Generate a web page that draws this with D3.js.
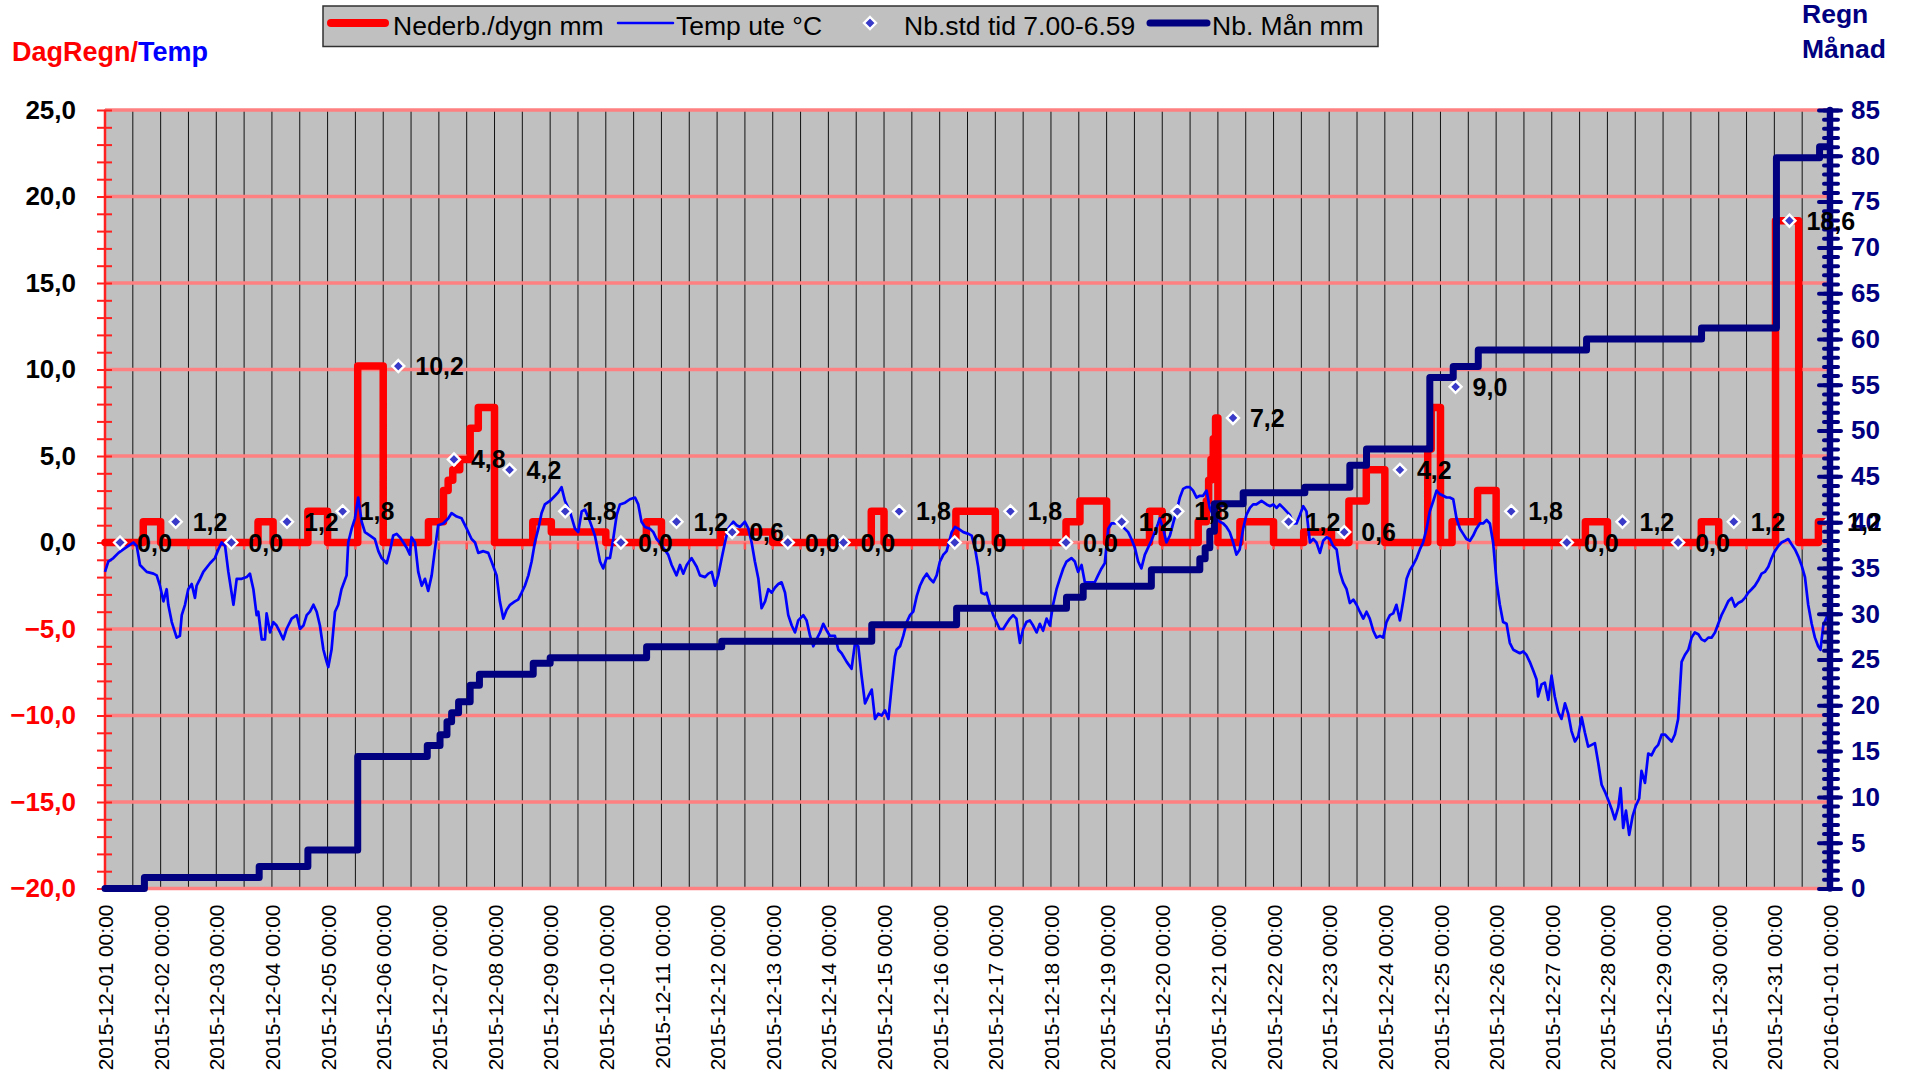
<!DOCTYPE html>
<html>
<head>
<meta charset="utf-8">
<script src="https://cdn.jsdelivr.net/npm/d3@7"></script>
<style>
  body { margin: 0; background: #fff; }
  svg { display: block; font-family: "Liberation Sans", Arial, sans-serif; }
</style>
</head>
<body>
<svg id="chart" width="1908" height="1075"></svg>
<script>
// hours counted from 2015-12-01 00:00
const startTime = Date.UTC(2015, 11, 1);
const spanHours = 744;

// Temp ute °C  [hour, value]
const tempPoints = [
  [0,-1.7],[1.4,-1.1],[3.6,-0.9],[5.8,-0.6],[7.9,-0.4],[10.1,-0.2],[12.2,0.0],[13.7,-0.2],[15.1,-1.3],[18.0,-1.7],
  [20.9,-1.8],[22.3,-1.9],[23.7,-2.5],[25.2,-3.4],[26.6,-2.7],[27.3,-3.6],[28.8,-4.6],[30.2,-5.2],[30.9,-5.5],[32.3,-5.4],
  [33.1,-4.2],[34.5,-3.6],[35.9,-2.7],[37.4,-2.4],[38.8,-3.2],[39.5,-2.5],[41.0,-2.1],[42.4,-1.7],[45.3,-1.2],[47.4,-0.9],
  [48.9,-0.4],[50.3,0.0],[51.8,-0.2],[53.2,-1.7],[55.4,-3.6],[56.8,-2.1],[59.0,-2.1],[61.1,-2.0],[62.5,-1.8],[64.0,-2.7],
  [65.4,-4.2],[66.1,-4.0],[67.6,-5.6],[69.0,-5.6],[69.7,-4.1],[71.2,-5.2],[72.6,-4.6],[74.0,-4.8],[75.5,-5.2],[76.9,-5.6],
  [78.3,-5.0],[80.5,-4.4],[82.7,-4.2],[84.1,-5.0],[85.6,-4.8],[87.0,-4.2],[88.4,-4.0],[89.9,-3.6],[91.3,-4.0],[92.7,-4.8],
  [94.2,-6.2],[95.6,-6.9],[96.3,-7.2],[97.7,-6.2],[99.2,-4.0],[100.6,-3.6],[102.0,-2.7],[104.2,-1.9],[104.9,0.0],[106.4,0.8],
  [107.8,1.4],[109.2,2.6],[110.7,1.2],[112.1,0.6],[114.3,0.4],[116.4,0.2],[117.9,-0.5],[119.3,-0.9],[121.5,-1.2],[122.9,-0.5],
  [124.3,0.4],[125.8,0.5],[127.2,0.3],[128.7,0.0],[130.1,-0.3],[131.5,-0.7],[132.2,0.3],[133.7,0.0],[135.1,-1.7],[136.6,-2.5],
  [138.0,-2.1],[139.4,-2.8],[140.9,-1.9],[142.3,-0.4],[143.7,1.0],[145.9,1.1],[148.1,1.4],[149.5,1.7],[151.7,1.5],[153.8,1.4],
  [156.0,0.8],[158.1,0.2],[159.6,0.0],[161.0,-0.6],[163.2,-0.5],[165.3,-0.6],[166.7,-1.1],[168.9,-1.9],[170.3,-3.4],[171.8,-4.4],
  [173.2,-3.9],[174.7,-3.6],[176.8,-3.4],[178.2,-3.3],[179.7,-2.9],[181.1,-2.5],[182.6,-1.9],[184.0,-1.1],[185.4,0.0],[186.9,0.8],
  [188.3,1.7],[189.7,2.2],[191.9,2.4],[194.1,2.7],[195.5,2.9],[196.9,3.2],[198.4,2.4],[200.5,1.8],[202.7,0.8],[204.1,0.6],
  [205.6,1.8],[207.0,1.9],[209.2,1.2],[211.3,0.4],[213.5,-1.1],[214.9,-1.5],[216.3,-0.9],[217.8,-0.9],[219.2,0.2],[220.7,1.6],
  [222.1,2.2],[224.3,2.3],[226.4,2.5],[228.6,2.6],[230.0,2.2],[231.4,1.2],[232.9,0.9],[235.0,0.8],[236.5,0.6],[237.9,0.2],
  [239.3,0.0],[240.8,-0.3],[242.9,-0.7],[244.4,-1.3],[246.5,-1.9],[248.0,-1.3],[249.4,-1.8],[250.9,-1.3],[253.0,-0.9],[255.2,-1.4],
  [256.6,-1.9],[258.8,-2.0],[260.2,-1.8],[261.7,-1.7],[263.1,-2.5],[264.5,-1.9],[266.0,-0.9],[267.4,0.0],[268.8,0.8],[271.0,1.2],
  [272.4,1.0],[273.9,0.9],[276.0,1.2],[277.5,0.8],[278.9,0.0],[280.3,-1.1],[281.8,-2.1],[283.2,-3.8],[284.7,-3.4],[286.1,-2.7],
  [287.5,-2.9],[289.0,-2.6],[290.4,-2.4],[291.8,-2.3],[293.3,-2.9],[294.7,-4.2],[296.2,-4.8],[297.6,-5.2],[299.0,-4.5],[301.2,-4.2],
  [302.6,-4.5],[304.1,-5.4],[305.5,-6.0],[306.9,-5.6],[308.4,-5.2],[309.8,-4.7],[311.3,-5.1],[312.7,-5.4],[314.8,-5.4],[316.3,-6.2],
  [317.7,-6.4],[319.9,-6.9],[322.0,-7.3],[323.5,-5.8],[324.9,-6.0],[326.3,-7.7],[327.8,-9.3],[329.2,-8.9],[330.7,-8.5],[332.1,-10.2],
  [333.5,-9.9],[335.0,-10.0],[336.4,-9.7],[337.9,-10.2],[339.3,-8.3],[340.7,-6.6],[341.4,-6.2],[342.9,-6.0],[344.3,-5.4],[345.8,-4.6],
  [347.2,-4.2],[348.6,-4.0],[350.1,-3.1],[351.5,-2.5],[352.9,-2.1],[354.4,-1.8],[355.8,-2.1],[357.3,-2.3],[358.7,-1.9],[360.1,-1.1],
  [361.6,-0.7],[363.0,-0.5],[365.2,0.6],[366.6,0.9],[368.0,0.8],[370.2,0.6],[372.4,0.5],[373.8,0.4],[375.2,-0.3],[376.6,-1.4],
  [378.0,-2.9],[379.5,-3.0],[380.2,-2.9],[381.6,-3.6],[383.1,-4.2],[384.5,-4.6],[385.9,-5.0],[387.4,-5.0],[388.8,-4.7],[390.3,-4.4],
  [391.7,-4.2],[393.1,-4.4],[394.6,-5.8],[396.0,-5.0],[397.4,-4.6],[398.9,-4.5],[400.3,-4.8],[401.8,-5.2],[403.2,-4.7],[404.6,-5.1],
  [406.1,-4.4],[407.5,-4.8],[408.9,-3.6],[410.4,-2.7],[411.8,-2.1],[413.3,-1.5],[414.7,-1.1],[416.8,-0.9],[418.3,-1.1],[419.7,-1.7],
  [421.2,-1.3],[422.6,-2.3],[424.8,-2.3],[426.9,-2.3],[428.3,-1.9],[429.8,-1.5],[431.2,-1.2],[432.7,0.8],[434.1,1.1],[435.5,1.1],
  [437.0,1.2],[438.4,1.0],[439.8,0.8],[441.3,0.6],[442.7,0.2],[444.2,-0.3],[445.6,-1.1],[447.0,-1.5],[448.5,-0.7],[449.9,-0.3],
  [451.3,0.1],[452.8,0.6],[454.2,1.1],[454.9,1.4],[456.4,0.8],[457.8,0.0],[459.3,0.4],[460.7,1.1],[462.1,1.8],[463.6,2.6],
  [465.0,3.1],[466.4,3.2],[467.9,3.2],[469.3,3.0],[470.8,2.6],[472.2,2.7],[473.6,2.7],[475.1,3.0],[476.5,2.0],[477.9,1.6],
  [479.4,1.4],[480.8,1.2],[482.3,1.1],[483.7,0.9],[485.1,0.6],[486.6,0.0],[488.0,-0.7],[489.4,-0.4],[490.9,0.8],[492.3,1.6],
  [493.8,2.0],[495.2,2.2],[496.6,2.2],[498.8,2.4],[501.0,2.2],[502.4,2.1],[503.9,2.2],[505.3,2.0],[506.7,2.2],[508.2,2.0],
  [509.6,1.8],[511.0,1.6],[512.5,1.1],[513.9,1.1],[515.4,1.6],[516.8,2.1],[518.2,1.8],[519.7,0.0],[521.1,0.2],[522.5,0.0],
  [524.0,-0.6],[525.4,0.1],[526.9,0.3],[528.3,0.2],[529.7,-0.2],[531.2,-0.4],[532.6,-1.7],[534.0,-2.3],[535.5,-2.7],[536.9,-3.5],
  [538.4,-3.3],[539.8,-3.6],[541.2,-4.0],[542.7,-4.4],[544.1,-4.0],[545.5,-4.4],[547.0,-5.1],[548.4,-5.5],[549.9,-5.4],[551.3,-5.5],
  [552.7,-4.6],[554.2,-4.2],[555.6,-4.1],[557.0,-3.6],[558.5,-4.5],[559.9,-3.4],[561.4,-2.1],[562.8,-1.6],[564.2,-1.3],[565.7,-0.9],
  [567.1,-0.4],[568.5,0.0],[570.0,0.8],[571.4,1.8],[572.9,2.4],[574.3,3.0],[575.7,2.8],[577.2,2.7],[578.6,2.6],[580.0,2.6],
  [581.5,2.5],[582.9,1.4],[584.4,0.8],[585.8,0.5],[587.2,0.2],[588.7,0.1],[590.1,0.4],[591.5,0.8],[593.0,1.1],[594.4,1.1],
  [595.9,1.3],[597.3,1.1],[598.7,0.0],[600.2,-2.3],[601.6,-3.6],[603.0,-4.6],[604.5,-4.7],[605.9,-5.8],[607.4,-6.2],[608.8,-6.3],
  [610.2,-6.4],[611.7,-6.3],[613.1,-6.5],[614.5,-6.9],[616.0,-7.4],[617.4,-7.9],[618.1,-8.9],[619.6,-8.2],[621.0,-8.1],[622.5,-9.1],
  [623.9,-7.7],[625.3,-8.9],[626.8,-9.8],[628.2,-10.2],[629.7,-9.3],[631.1,-9.9],[632.5,-10.9],[634.0,-11.5],[635.4,-11.2],[636.9,-10.1],
  [638.3,-11.0],[639.7,-11.8],[641.2,-11.7],[642.6,-11.6],[644.0,-12.7],[645.5,-14.0],[646.9,-14.4],[648.4,-14.9],[649.8,-15.4],[651.2,-16.0],
  [652.7,-15.3],[653.7,-14.2],[654.8,-16.5],[656.0,-15.5],[657.4,-16.9],[658.9,-15.8],[660.3,-15.2],[661.7,-14.8],[662.7,-13.2],[664.2,-13.9],
  [665.6,-12.2],[667.0,-12.3],[668.5,-11.9],[669.9,-11.7],[671.4,-11.1],[672.8,-11.1],[674.2,-11.3],[675.7,-11.5],[677.1,-11.1],[678.5,-10.2],
  [680.0,-6.9],[681.4,-6.5],[682.9,-6.2],[684.3,-5.5],[685.7,-5.2],[687.2,-5.3],[688.6,-5.6],[690.0,-5.7],[691.5,-5.5],[692.9,-5.5],
  [694.4,-5.2],[695.8,-4.7],[697.2,-4.2],[698.7,-3.8],[700.1,-3.4],[701.6,-3.2],[703.0,-3.7],[704.4,-3.5],[705.9,-3.4],[707.3,-3.2],
  [708.7,-2.9],[710.2,-2.7],[711.6,-2.5],[713.0,-2.2],[714.5,-1.8],[715.9,-1.7],[717.4,-1.4],[718.8,-0.9],[720.2,-0.5],[721.7,-0.2],
  [723.1,0.0],[724.6,0.1],[726.0,0.2],[727.4,-0.1],[728.9,-0.4],[730.3,-0.8],[731.7,-1.3],[733.2,-2.0],[734.6,-3.6],[736.1,-4.7],
  [737.5,-5.5],[738.9,-6.0],[739.9,-6.2],[741.1,-4.8],[742.6,-4.3],[744,-4.2]
];

// Nederb./dygn mm  [hour, mm], held until next point
const rainDay = [
  [0,0],[16.5,1.2],[24,0],[66,1.2],[72.5,0],[87.5,1.8],[96,0],[109,10.2],[120,0],
  [139.5,1.2],[146,3.0],[148,3.6],[150,4.2],[153,4.8],[157.5,6.6],[161,7.8],[168,0],
  [184.5,1.2],[192.5,0.6],[216,0],[233.5,1.2],[240,0],[265.5,0.6],[288,0],[330.5,1.8],[336,0],
  [367,1.8],[384,0],[414.5,1.2],[420.5,2.4],[432,0],[450.5,1.8],[456,0],
  [471.5,1.2],[475,2.4],[476,3.6],[477,4.8],[478,6.0],[479,7.2],[480,0],[489.5,1.2],[504,0],
  [517,0.6],[529,0],[536.5,2.4],[544,4.2],[552,0],[570.5,5.4],[572,7.8],[576,0],
  [581,1.2],[592,3.0],[600,0],[638.5,1.2],[648,0],[688.5,1.2],[696,0],[720.5,18.6],[730.5,0],[739,1.2],[744,1.2]
];

// Nb. Mån mm  [hour, mm]
const rainMonth = [
  [0,0],[17,1.2],[66.5,2.4],[87.5,4.2],[109,14.4],[139,15.6],[144.5,16.8],[147.5,18.2],[149.5,19.2],
  [152.5,20.4],[157.5,22.2],[161.5,23.4],[184.7,24.6],[192,25.2],[233.6,26.4],[266,27.0],[330.7,28.8],
  [367.3,30.6],[414.7,31.8],[421.9,33.0],[451.3,34.8],[472.2,36.0],[474.5,37.2],[476.5,39.0],[478.5,42.0],
  [490.9,43.2],[517.5,43.8],[536.9,46.2],[544.1,48.0],[571.4,55.8],[581.5,57.0],[592.3,58.8],[639,60.0],
  [688.6,61.2],[720.9,79.8],[739.5,81.0],[744,81.0]
];

// Nb.std tid 7.00-6.59
const dailyHours = [6.5,30.5,54.5,78.5,102.5,126.5,150.5,174.5,198.5,222.5,246.5,270.5,294.5,318.5,342.5,366.5,
  390.5,414.5,438.5,462.5,486.5,510.5,534.5,558.5,582.5,606.5,630.5,654.5,678.5,702.5,726.5,744];
const dailyTotals = [0.0,1.2,0.0,1.2,1.8,10.2,4.8,4.2,1.8,0.0,1.2,0.6,0.0,0.0,1.8,0.0,
  1.8,0.0,1.2,1.8,7.2,1.2,0.6,4.2,9.0,1.8,0.0,1.2,0.0,1.2,18.6,1.2];

const leftTicks = d3.range(-20, 26, 5);
const rightTicks = d3.range(0, 86, 5);

const svg = d3.select('#chart');
const margin = { left: 105, right: 1830, top: 110, bottom: 888.5 };
const font = '"Liberation Sans", Arial, sans-serif';

const at = h => new Date(startTime + h * 3600e3);
const x = d3.scaleUtc().domain([at(0), at(spanHours)]).range([margin.left, margin.right]);
const yL = d3.scaleLinear().domain([-20, 25]).range([margin.bottom, margin.top]);
const yR = d3.scaleLinear().domain([0, 85]).range([margin.bottom, margin.top]);

const se = d3.formatLocale({ decimal: ',', thousands: ' ', grouping: [3], currency: ['', ' kr'] });
const f1 = se.format('.1f');

// plot background
svg.append('rect')
  .attr('x', margin.left).attr('y', margin.top)
  .attr('width', margin.right - margin.left).attr('height', margin.bottom - margin.top)
  .attr('fill', '#c0c0c0').attr('stroke', '#808080').attr('stroke-width', 1.5);

// vertical grid every 12 h
const halfDays = d3.utcHour.every(12).range(at(12), at(spanHours));
svg.append('g').selectAll('line').data(halfDays).join('line')
  .attr('x1', d => x(d)).attr('x2', d => x(d))
  .attr('y1', margin.top).attr('y2', margin.bottom)
  .attr('stroke', '#111').attr('stroke-width', 1);

// horizontal grid
svg.append('g').selectAll('line').data(leftTicks).join('line')
  .attr('x1', margin.left).attr('x2', margin.right)
  .attr('y1', d => yL(d)).attr('y2', d => yL(d))
  .attr('stroke', '#ff8080').attr('stroke-width', 3.5);

// small x ticks at the 0 line
svg.append('g').selectAll('line').data(d3.utcHour.every(12).range(at(0), at(spanHours + 1))).join('line')
  .attr('x1', d => x(d)).attr('x2', d => x(d))
  .attr('y1', yL(0)).attr('y2', yL(0) + 7)
  .attr('stroke', '#ff5050').attr('stroke-width', 2.5);

// left axis
svg.append('line')
  .attr('x1', margin.left).attr('x2', margin.left)
  .attr('y1', margin.top).attr('y2', margin.bottom)
  .attr('stroke', '#ff2020').attr('stroke-width', 2.5);
const redTicks = g => g.call(s => s.select('.domain').remove())
  .call(s => s.selectAll('line').attr('stroke', '#ff2020').attr('stroke-width', 2));
svg.append('g').attr('transform', `translate(${margin.left},0)`)
  .call(d3.axisLeft(yL).tickValues(d3.range(-20, 26, 1)).tickSize(8).tickFormat(''))
  .call(redTicks);
svg.append('g').attr('transform', `translate(${margin.left},0)`)
  .call(d3.axisRight(yL).tickValues(d3.range(-20, 26, 1)).tickSize(7).tickFormat(''))
  .call(redTicks);
svg.append('g').attr('transform', `translate(${margin.left},0)`)
  .call(d3.axisLeft(yL).tickValues(leftTicks).tickSize(0).tickPadding(29).tickFormat(f1))
  .call(g => g.select('.domain').remove())
  .call(g => g.selectAll('text')
    .attr('font-family', font)
    .attr('font-size', 26).attr('font-weight', 'bold')
    .attr('fill', d => d < 0 ? '#ff0000' : '#000'));

// series
const rainLine = d3.line().x(d => x(at(d[0]))).y(d => yL(d[1])).curve(d3.curveStepAfter);
svg.append('path').datum(rainDay)
  .attr('d', rainLine)
  .attr('fill', 'none').attr('stroke', '#ff0000').attr('stroke-width', 7.5)
  .attr('stroke-linejoin', 'round').attr('stroke-linecap', 'round');

const tempLine = d3.line().x(d => x(at(d[0]))).y(d => yL(d[1]));
svg.append('path').datum(tempPoints)
  .attr('d', tempLine)
  .attr('fill', 'none').attr('stroke', '#0000ff').attr('stroke-width', 2.7)
  .attr('stroke-linejoin', 'round');

const daily = dailyHours.map((h, i) => ({ h, v: dailyTotals[i] }));
const diamond = 'M0,-6L6,0L0,6L-6,0Z';
svg.append('g').selectAll('path').data(daily).join('path')
  .attr('d', diamond)
  .attr('transform', d => `translate(${x(at(d.h))},${yL(d.v)})`)
  .attr('fill', '#3a3ac8').attr('stroke', '#fff').attr('stroke-width', 2.4);

const monthLine = d3.line().x(d => x(at(d[0]))).y(d => yR(d[1])).curve(d3.curveStepAfter);
svg.append('path').datum(rainMonth)
  .attr('d', monthLine)
  .attr('fill', 'none').attr('stroke', '#000080').attr('stroke-width', 7)
  .attr('stroke-linejoin', 'round').attr('stroke-linecap', 'round');

// right axis
svg.append('line')
  .attr('x1', margin.right).attr('x2', margin.right)
  .attr('y1', margin.top).attr('y2', margin.bottom)
  .attr('stroke', '#000080').attr('stroke-width', 6.5).attr('stroke-linecap', 'round');
const navyTicks = g => g.call(s => s.select('.domain').remove())
  .call(s => s.selectAll('line').attr('stroke', '#000080').attr('stroke-width', 4).attr('stroke-linecap', 'round'));
const minorR = d3.range(0, 86, 1);
svg.append('g').attr('transform', `translate(${margin.right},0)`)
  .call(d3.axisRight(yR).tickValues(minorR).tickSize(8).tickFormat(''))
  .call(navyTicks);
svg.append('g').attr('transform', `translate(${margin.right},0)`)
  .call(d3.axisLeft(yR).tickValues(minorR).tickSize(6).tickFormat(''))
  .call(navyTicks);
svg.append('g').attr('transform', `translate(${margin.right},0)`)
  .call(d3.axisLeft(yR).tickValues(rightTicks).tickSize(11).tickFormat(''))
  .call(navyTicks);
svg.append('g').attr('transform', `translate(${margin.right},0)`)
  .call(d3.axisRight(yR).tickValues(rightTicks).tickSize(11).tickPadding(10))
  .call(navyTicks)
  .call(g => g.selectAll('text')
    .attr('font-family', font)
    .attr('font-size', 26).attr('font-weight', 'bold').attr('fill', '#000080'));

// data labels
svg.append('g').selectAll('text').data(daily).join('text')
  .attr('x', d => x(at(d.h)) + 17).attr('y', d => yL(d.v))
  .attr('dy', '0.36em')
  .attr('font-size', 25).attr('font-weight', 'bold').attr('fill', '#000')
  .text(d => f1(d.v));

// x axis labels
svg.append('g').attr('transform', `translate(0,${margin.bottom})`)
  .call(d3.axisBottom(x).tickValues(d3.utcDay.range(at(0), at(spanHours + 1))).tickSize(0)
    .tickFormat(d3.utcFormat('%Y-%m-%d %H:%M')))
  .call(g => g.select('.domain').remove())
  .call(g => g.selectAll('text')
    .attr('font-family', font)
    .attr('font-size', 21).attr('fill', '#000')
    .attr('transform', 'rotate(-90)')
    .attr('text-anchor', 'end')
    .attr('x', -16).attr('y', 0).attr('dy', '0.36em'));

// axis titles
const t1 = svg.append('text').attr('x', 12).attr('y', 61)
  .attr('font-size', 27).attr('font-weight', 'bold');
t1.append('tspan').attr('fill', '#ff0000').text('DagRegn/');
t1.append('tspan').attr('fill', '#0000ff').text('Temp');

svg.append('text').attr('x', 1802).attr('y', 23)
  .attr('font-size', 26.5).attr('font-weight', 'bold').attr('fill', '#000080').text('Regn');
svg.append('text').attr('x', 1802).attr('y', 58)
  .attr('font-size', 26.5).attr('font-weight', 'bold').attr('fill', '#000080').text('Månad');

// legend
const legend = svg.append('g');
legend.append('rect')
  .attr('x', 323).attr('y', 6).attr('width', 1055).attr('height', 40.5)
  .attr('fill', '#c0c0c0').attr('stroke', '#303030').attr('stroke-width', 1.5);
const legendY = 23;
const legendItems = [
  { x1: 331, x2: 385, color: '#ff0000', w: 8, tx: 393, label: 'Nederb./dygn mm' },
  { x1: 618, x2: 673, color: '#0000ff', w: 2.5, tx: 676, label: 'Temp ute °C' },
  { marker: 870, tx: 904, label: 'Nb.std tid 7.00-6.59' },
  { x1: 1150, x2: 1207, color: '#000080', w: 7, tx: 1212, label: 'Nb. Mån mm' }
];
legendItems.forEach(it => {
  if (it.marker) {
    legend.append('path').attr('d', diamond)
      .attr('transform', `translate(${it.marker},${legendY})`)
      .attr('fill', '#3a3ac8').attr('stroke', '#fff').attr('stroke-width', 2.4);
  } else {
    legend.append('line')
      .attr('x1', it.x1).attr('x2', it.x2).attr('y1', legendY).attr('y2', legendY)
      .attr('stroke', it.color).attr('stroke-width', it.w).attr('stroke-linecap', 'round');
  }
  legend.append('text').attr('x', it.tx).attr('y', 35)
    .attr('font-size', 26.5).attr('fill', '#000').text(it.label);
});
</script>
</body>
</html>
